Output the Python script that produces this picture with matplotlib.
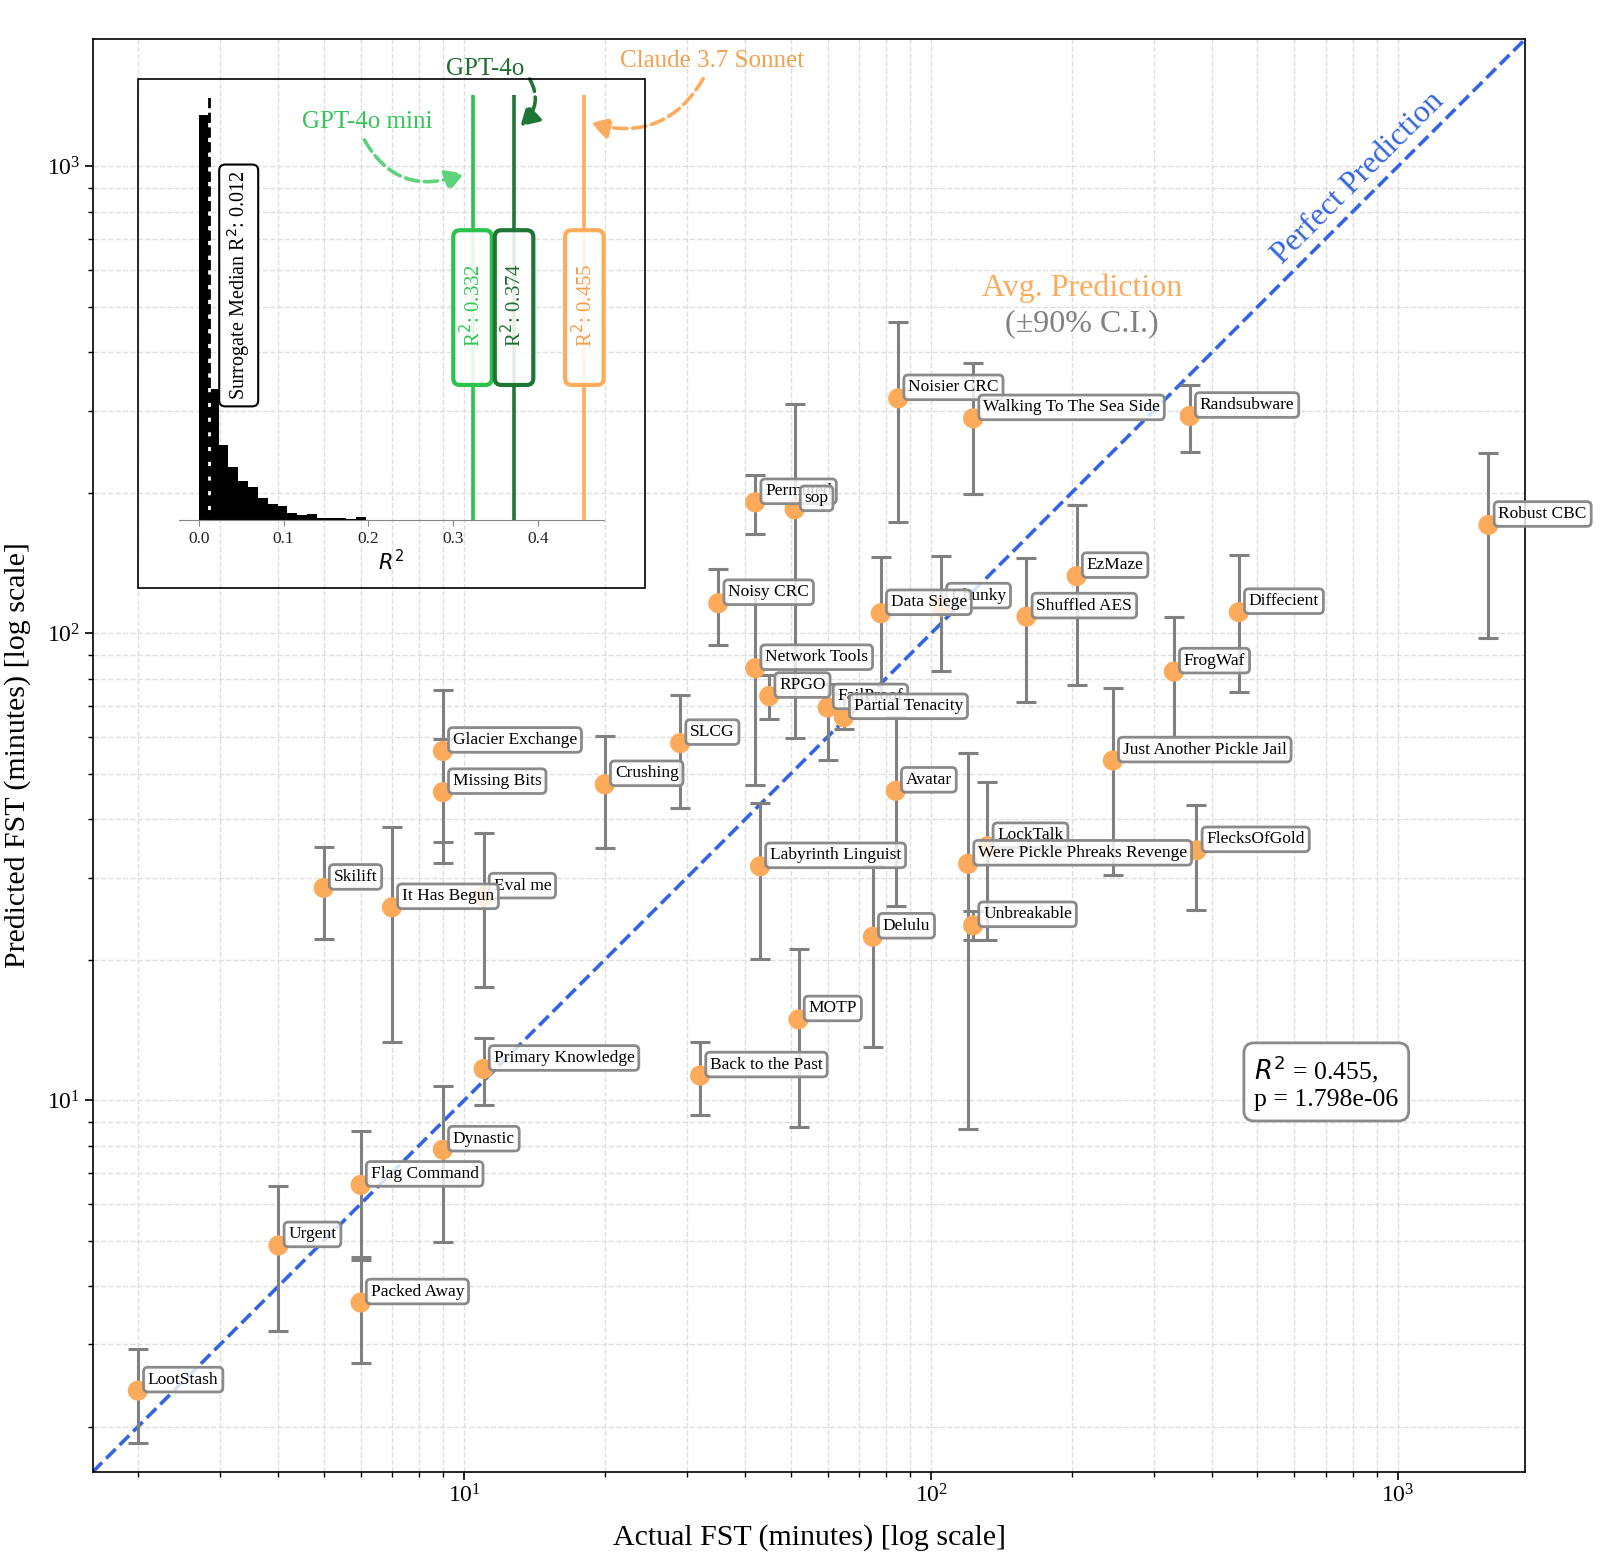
#!/usr/bin/env python3
"""
Predicted vs. actual first-solve time (FST) per challenge.

Main panel: average model prediction with 90% C.I. against the actual FST
(log-log), with a perfect-prediction diagonal.
Inset: surrogate R^2 distribution compared against three models.
"""

import matplotlib

matplotlib.use("Agg")
import matplotlib.pyplot as plt
import numpy as np
from matplotlib.patches import Rectangle

# ----------------------------------------
# Data (minutes)
# ----------------------------------------
challenges = [
    "LootStash", "Urgent", "Flag Command", "Packed Away", "Dynastic",
    "Primary Knowledge", "Skilift", "Eval me", "It Has Begun", "Glacier Exchange",
    "Missing Bits", "Crushing", "SLCG", "Back to the Past", "MOTP",
    "Labyrinth Linguist", "Delulu", "Avatar", "Noisy CRC", "Permuted",
    "sop", "Network Tools", "RPGO", "FailProof", "Partial Tenacity",
    "Noisier CRC", "Walking To The Sea Side", "Chunky", "Data Siege", "Shuffled AES",
    "EzMaze", "Randsubware", "Robust CBC", "Diffecient", "FrogWaf",
    "Just Another Pickle Jail", "FlecksOfGold", "LockTalk", "Were Pickle Phreaks Revenge", "Unbreakable",
]
actual_fst = [
    2, 4, 6, 6, 9,
    11, 5, 11, 7, 9,
    9, 20, 29, 32, 52,
    43, 75, 84, 35, 42,
    51, 42, 45, 60, 65,
    85, 123, 105, 78, 160,
    205, 358, 1562, 456, 331,
    245, 370, 132, 120, 123,
]
predicted_fst = [
    2.39, 4.89, 6.59, 3.69, 7.84,
    11.67, 28.5, 27.3, 25.9, 56.0,
    45.7, 47.5, 58.2, 11.3, 14.9,
    31.7, 22.4, 46.0, 116.0, 190.8,
    184.3, 84.2, 73.4, 69.4, 66.1,
    318.6, 288.6, 114.1, 110.4, 108.6,
    132.6, 292.0, 170.6, 111.0, 82.8,
    53.4, 34.3, 35.0, 32.1, 23.7,
]
ci_low = [
    1.85, 3.21, 4.62, 2.74, 4.97,
    9.78, 22.2, 17.5, 13.3, 35.8,
    32.2, 34.7, 42.2, 9.3, 8.78,
    20.1, 13.0, 26.1, 94.4, 163.2,
    59.7, 47.3, 65.5, 53.5, 62.3,
    173.4, 198.8, 82.9, 72.0, 71.3,
    77.4, 244.0, 97.6, 75.0, 60.0,
    30.4, 25.6, 22.0, 8.68, 22.0,
]
ci_high = [
    2.93, 6.57, 8.61, 4.56, 10.75,
    13.57, 34.8, 37.4, 38.4, 75.7,
    59.3, 60.2, 73.8, 13.3, 21.1,
    43.3, 31.8, 66.1, 137.6, 218.6,
    309.3, 123.0, 81.4, 78.0, 74.0,
    465.0, 378.6, 146.2, 145.7, 144.8,
    188.0, 340.0, 243.0, 146.8, 108.2,
    76.3, 42.9, 48.1, 55.4, 25.4,
]

overall_r2 = 0.455
overall_p = 1.798e-06

# Inset: surrogate R^2 histogram (bin counts)
surrogate_bin_width = 0.0116
surrogate_counts = [
    1000, 325, 185, 132, 98, 83, 54, 41, 35, 18,
    14, 16, 7, 5, 6, 3, 8, 2, 2, 0,
    0, 0, 0, 0, 0, 0, 0, 0, 0, 2,
]
surrogate_median_r2 = 0.012

model_names = ["GPT-4o mini", "GPT-4o", "Claude 3.7 Sonnet"]
model_r2_labels = [0.332, 0.374, 0.455]  # values printed in the boxes
model_r2_lines = [0.323, 0.372, 0.455]   # where the lines sit on the R^2 axis
model_line_colors = ["#2cc24c", "#1f7534", "#ffab5e"]
model_text_colors = ["#34c457", "#1e6c30", "#f59e4c"]
model_arrow_colors = ["#5ed27c", "#1f7534", "#ffab5e"]

# ----------------------------------------
# Style
# ----------------------------------------
plt.rcParams["font.family"] = ["Liberation Serif", "DejaVu Serif"]
plt.rcParams["mathtext.fontset"] = "dejavusans"

POINT_COLOR = "#fdaa5b"
ERR_COLOR = "#808080"
DIAG_COLOR = "#3465e0"


def draw_main(fig):
    """Scatter of predicted vs. actual FST with error bars and labels."""
    ax = fig.add_axes([0.0579, 0.0546, 0.8955, 0.9204])

    x = np.array(actual_fst, dtype=float)
    y = np.array(predicted_fst, dtype=float)
    yerr = [y - np.array(ci_low), np.array(ci_high) - y]

    lo = x.min() * 0.8
    hi = x.max() * 1.2

    ax.set_xscale("log")
    ax.set_yscale("log")
    ax.set_xlim(lo, hi)
    ax.set_ylim(lo, hi)

    ax.grid(True, which="both", linestyle="--", color="#dedede", linewidth=1.0, zorder=0)
    ax.set_axisbelow(True)

    # Perfect prediction diagonal
    ax.plot([lo, hi], [lo, hi], linestyle="--", color=DIAG_COLOR, linewidth=2.6, zorder=2)
    ax.text(820, 945, "Perfect Prediction", rotation=45, rotation_mode="anchor",
            ha="center", va="center", color=DIAG_COLOR, fontsize=23, zorder=2)

    ax.errorbar(x, y, yerr=yerr, fmt="none", ecolor=ERR_COLOR, elinewidth=2.2,
                capsize=7.5, capthick=2.2, zorder=2)
    ax.scatter(x, y, s=210, color=POINT_COLOR, edgecolors="none", zorder=3)

    for name, xi, yi in zip(challenges, x, y):
        ax.annotate(name, (xi, yi), xytext=(10, 3), textcoords="offset pixels",
                    ha="left", va="bottom", fontsize=12.5, zorder=4,
                    bbox=dict(boxstyle="round,pad=0.25", fc=(1, 1, 1, 0.82),
                              ec="#8a8a8a", lw=2))

    ax.text(0.6906, 0.8258, "Avg. Prediction", transform=ax.transAxes,
            ha="center", va="center", color=POINT_COLOR, fontsize=23)
    ax.text(0.6906, 0.8016, "(±90% C.I.)", transform=ax.transAxes,
            ha="center", va="center", color="#808080", fontsize=23)

    ax.text(0.861, 0.272, f"$R^2$ = {overall_r2:.3f},\np = {overall_p:.3e}",
            transform=ax.transAxes, ha="center", va="center", multialignment="left",
            fontsize=18.5, zorder=5,
            bbox=dict(boxstyle="round,pad=0.4", fc="white", ec="#8a8a8a", lw=2))

    ax.set_xlabel("Actual FST (minutes) [log scale]", fontsize=21.5, labelpad=12)
    ax.set_ylabel("Predicted FST (minutes) [log scale]", fontsize=21.5, labelpad=11)
    ax.tick_params(axis="both", which="major", labelsize=17, length=5.5, width=1.2)
    ax.tick_params(axis="both", which="minor", length=3.5, width=1.0)
    for spine in ax.spines.values():
        spine.set_linewidth(1.2)
    return ax


def draw_inset(fig):
    """Surrogate R^2 histogram with model R^2 markers."""
    # Frame around the inset (including its labels)
    fig.add_artist(Rectangle((0.0864, 0.6225), 0.3170, 0.3266, transform=fig.transFigure,
                             fill=False, ec="black", lw=1.2, zorder=10))

    ax_in = fig.add_axes([0.1116, 0.6658, 0.2658, 0.2733])
    ax_in.patch.set_alpha(0.0)

    edges = np.arange(len(surrogate_counts)) * surrogate_bin_width
    ax_in.bar(edges, surrogate_counts, width=surrogate_bin_width, align="edge",
              color="black", edgecolor="none", zorder=2)
    ax_in.set_xlim(-0.024, 0.478)
    ax_in.set_ylim(0, max(surrogate_counts) * 1.05)

    ax_in.axvline(surrogate_median_r2, color="black", linestyle="--", gapcolor="white",
                  linewidth=2.0, zorder=3)
    ax_in.text(surrogate_median_r2 + 0.035, 0.552,
               f"Surrogate Median R$^2$: {surrogate_median_r2:.3f}",
               transform=ax_in.get_xaxis_transform(), rotation=90, ha="center", va="center",
               fontsize=14.5, zorder=4,
               bbox=dict(boxstyle="round,pad=0.3", fc="white", ec="black", lw=1.5))

    trans = ax_in.get_xaxis_transform()
    for r2_line, r2_lab, lc, tc in zip(model_r2_lines, model_r2_labels,
                                       model_line_colors, model_text_colors):
        ax_in.axvline(r2_line, color=lc, linewidth=2.6, zorder=3)
        ax_in.text(r2_line, 0.5, f"      R$^2$: {r2_lab:.3f}      ", transform=trans,
                   rotation=90, ha="center", va="center", color=tc, fontsize=15, zorder=4,
                   bbox=dict(boxstyle="round,pad=0.32", fc=(1, 1, 1, 0.88), ec=lc, lw=3))

    # Model name call-outs with dashed curved arrows
    callouts = [
        # (text xy in axes fraction, tip x offset, tip y fraction, connection, relpos)
        ((0.444, 0.935), -0.010, 0.815, "arc3,rad=0.45", (0.45, 0.0)),
        ((0.722, 1.060), 0.0075, 0.926, "arc3,rad=-0.45", (1.0, 0.4)),
        ((1.255, 1.079), 0.0077, 0.933, "arc3,rad=-0.4", (0.47, 0.0)),
    ]
    for name, r2, tcol, acol, (txy, dx, tip_y, conn, relpos) in zip(
            model_names, model_r2_lines, model_text_colors, model_arrow_colors, callouts):
        ax_in.annotate(name, xy=(r2 + dx, tip_y), xycoords=trans,
                       xytext=txy, textcoords="axes fraction",
                       ha="center", va="center", color=tcol, fontsize=18,
                       annotation_clip=False, zorder=6,
                       arrowprops=dict(arrowstyle="-|>,head_length=0.55,head_width=0.32",
                                       linestyle="--", lw=2.6, color=acol,
                                       connectionstyle=conn, relpos=relpos,
                                       shrinkA=3, shrinkB=0, mutation_scale=20))

    for side in ["top", "left", "right"]:
        ax_in.spines[side].set_visible(False)
    ax_in.spines["bottom"].set_color("#888888")
    ax_in.set_yticks([])
    ax_in.set_xticks([0.0, 0.1, 0.2, 0.3, 0.4])
    ax_in.tick_params(axis="x", labelsize=12.5, colors="#888888", labelcolor="#222222", length=4)
    ax_in.set_xlabel("$R^2$", fontsize=15, labelpad=2)
    return ax_in


def main():
    fig = plt.figure(figsize=(16, 15.57), dpi=100)
    draw_main(fig)
    draw_inset(fig)
    fig.savefig("out.png", dpi=100)
    print("Saved out.png")


if __name__ == "__main__":
    main()
